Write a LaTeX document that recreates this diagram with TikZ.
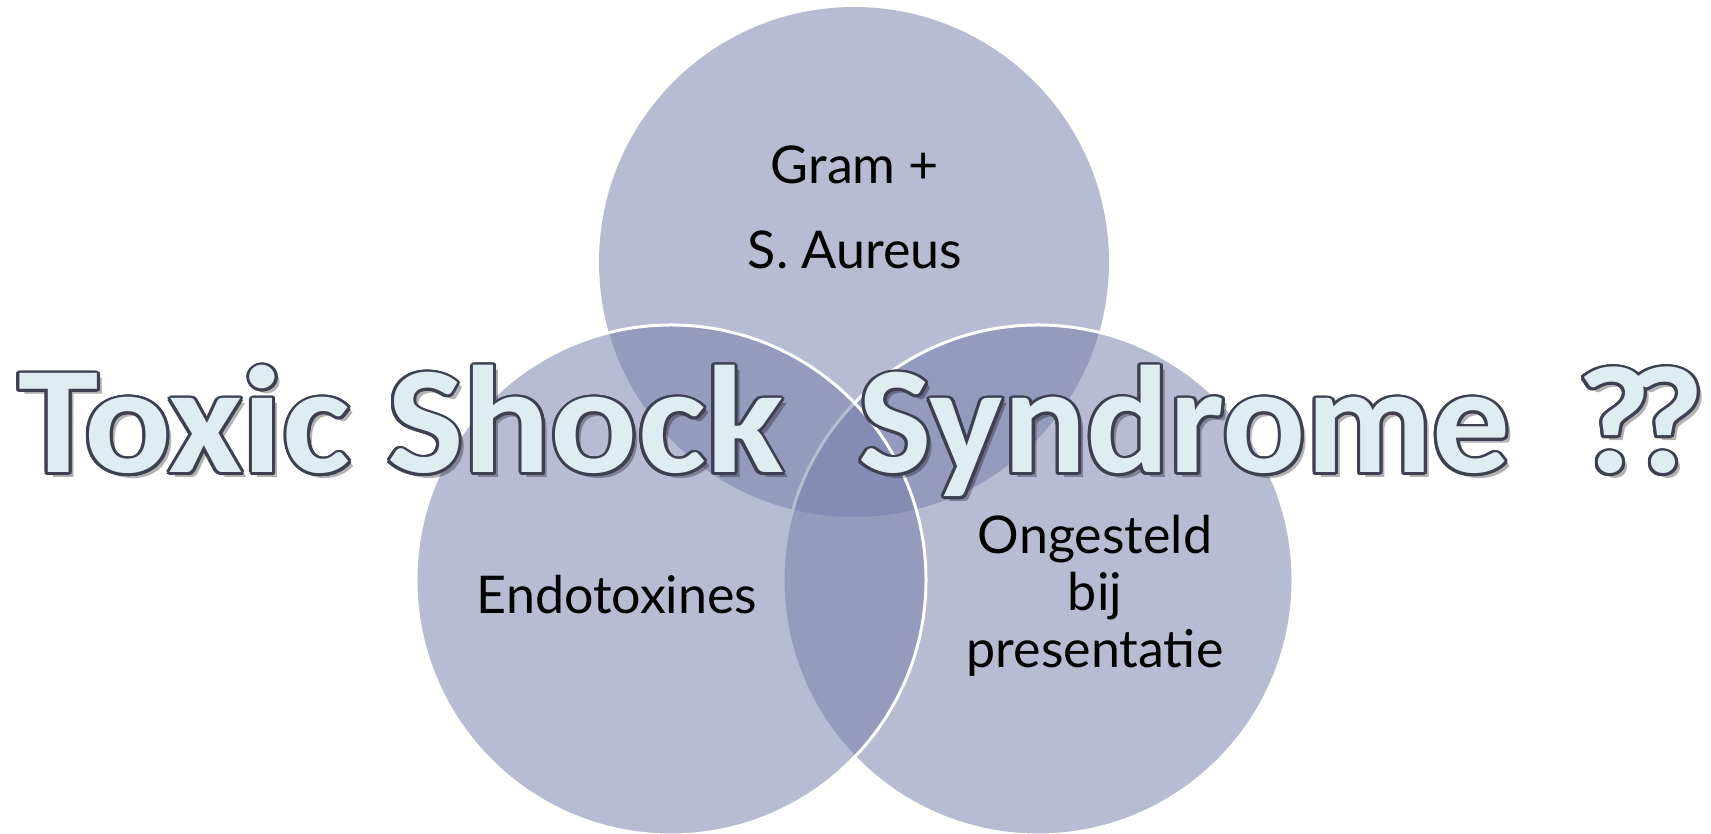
\documentclass[tikz,border=0pt]{standalone}
\usepackage{fontspec}
\setmainfont{Lato}
\newfontfamily\titlefont[FakeStretch=1.06]{Carlito}
\usetikzlibrary{positioning}
\definecolor{vennfill}{RGB}{118,126,170}
\definecolor{titlefill}{RGB}{222,237,242}
\definecolor{titleedge}{RGB}{62,64,82}
\newcommand{\tsstitle}{Toxic Shock\hspace{38pt} \scalebox{0.956}[1]{Syndrome}\hspace{66pt}?\kern-22pt?}
\tikzset{
  venn/.style={circle,minimum size=510pt,inner sep=0pt,fill=vennfill,fill opacity=0.52},
  lbl/.style={font=\fontsize{52}{60}\selectfont,text=black,inner sep=0pt,anchor=base},
  ttl/.style={font=\titlefont\bfseries\fontsize{153}{160}\selectfont,inner sep=0pt,anchor=base west}
}
\begin{document}
\begin{tikzpicture}[x=1pt,y=1pt]
    \useasboundingbox (0,0) rectangle (1711,834);
    % the three sets
    \node[venn] (top) at (854,572) {};
    \node[venn,draw=white,line width=3pt] (right) at (1038,254) {};
    \node[venn,draw=white,line width=3pt] (left) at (671,254) {};
    \node[lbl] (gram) at (855,650) {Gram +};
    \node[lbl] (aureus) at (855,565) {S. Aureus};
    \node[lbl] (endo) at (617,220) {Endotoxines};
    \node[lbl] (onges) at (1095,280) {Ongesteld};
    \node[lbl] (bij) at (1095,223) {bij};
    \node[lbl] (pres) at (1095,166) {presentatie};
    % outlined title
    \node[ttl,text=black,text opacity=0.3,shift={(5pt,-5pt)}] (shadow) at (18,361) {\tsstitle};
    \foreach \a in {0,20,...,340}
        \node[ttl,text=titleedge,shift={(\a:3pt)}] (edge\a) at (18,361) {\tsstitle};
    \node[ttl,text=titlefill] (title) at (18,361) {\tsstitle};
\end{tikzpicture}
\end{document}
